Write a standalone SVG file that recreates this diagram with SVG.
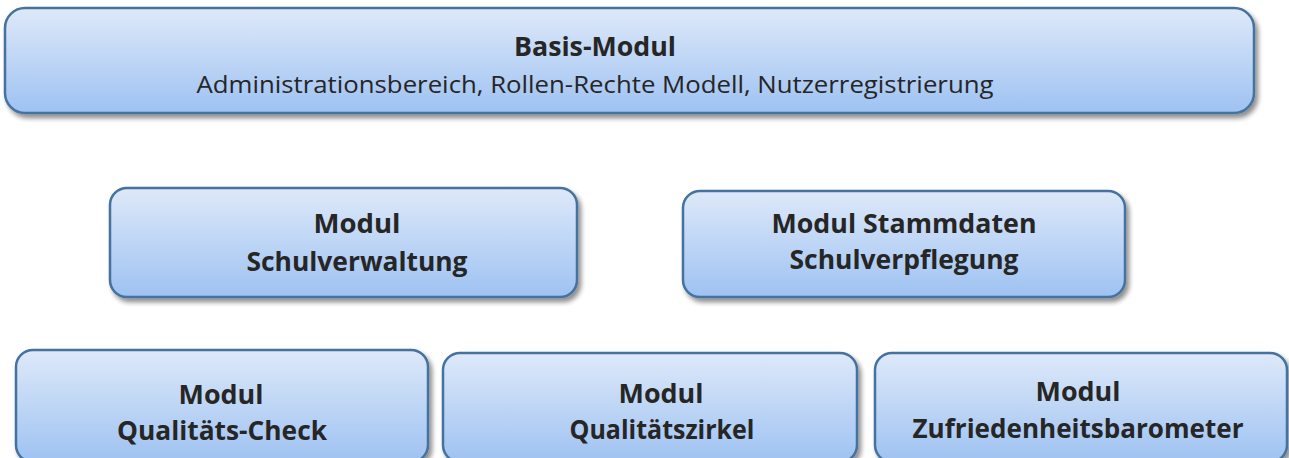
<svg xmlns="http://www.w3.org/2000/svg" width="1289" height="458" viewBox="0 0 1289 458">
<defs>
<linearGradient id="g" x1="0" y1="0" x2="0" y2="1">
<stop offset="0" stop-color="#dee9f9"/>
<stop offset="1" stop-color="#9ec2f2"/>
</linearGradient>
<filter id="sh" x="-5%" y="-10%" width="112%" height="130%">
<feGaussianBlur in="SourceAlpha" stdDeviation="2.5"/>
<feOffset dx="3" dy="4" result="b"/>
<feComponentTransfer><feFuncA type="linear" slope="0.45"/></feComponentTransfer>
<feMerge><feMergeNode/><feMergeNode in="SourceGraphic"/></feMerge>
</filter>
</defs>
<style>
.box{fill:url(#g);stroke:#45729f;stroke-width:2.5;filter:url(#sh)}
.t{font-family:"Open Sans","Liberation Sans",sans-serif;fill:#262626;text-anchor:middle}
.b{font-weight:bold;font-size:27px}
.r{font-size:24px}
</style>
<rect width="1289" height="458" fill="#ffffff"/>
<g id="connectors"/>
<g id="basis">
<rect class="box" x="5" y="8" width="1249" height="105" rx="20"/>
<text class="t b" x="595" y="56" textLength="162" lengthAdjust="spacingAndGlyphs">Basis-Modul</text>
<text class="t r" x="595" y="93" textLength="797" lengthAdjust="spacingAndGlyphs">Administrationsbereich, Rollen-Rechte Modell, Nutzerregistrierung</text>
</g>
<g id="schulverwaltung">
<rect class="box" x="110" y="188" width="467" height="109" rx="17"/>
<text class="t b" x="357" y="233" textLength="87" lengthAdjust="spacingAndGlyphs">Modul</text>
<text class="t b" x="357" y="271" textLength="221" lengthAdjust="spacingAndGlyphs">Schulverwaltung</text>
</g>
<g id="stammdaten">
<rect class="box" x="683" y="191" width="442" height="106" rx="17"/>
<text class="t b" x="904" y="233" textLength="265" lengthAdjust="spacingAndGlyphs">Modul Stammdaten</text>
<text class="t b" x="904" y="269" textLength="229" lengthAdjust="spacingAndGlyphs">Schulverpflegung</text>
</g>
<g id="qcheck">
<rect class="box" x="16" y="350" width="412" height="112" rx="17"/>
<text class="t b" x="221" y="404" textLength="85" lengthAdjust="spacingAndGlyphs">Modul</text>
<text class="t b" x="222" y="440" textLength="210" lengthAdjust="spacingAndGlyphs">Qualitäts-Check</text>
</g>
<g id="qzirkel">
<rect class="box" x="443" y="353" width="414" height="109" rx="17"/>
<text class="t b" x="661" y="403" textLength="85" lengthAdjust="spacingAndGlyphs">Modul</text>
<text class="t b" x="662" y="439" textLength="185" lengthAdjust="spacingAndGlyphs">Qualitätszirkel</text>
</g>
<g id="zufriedenheit">
<rect class="box" x="875" y="353" width="412" height="109" rx="17"/>
<text class="t b" x="1078" y="401" textLength="85" lengthAdjust="spacingAndGlyphs">Modul</text>
<text class="t b" x="1078" y="438" textLength="331" lengthAdjust="spacingAndGlyphs">Zufriedenheitsbarometer</text>
</g>
</svg>
